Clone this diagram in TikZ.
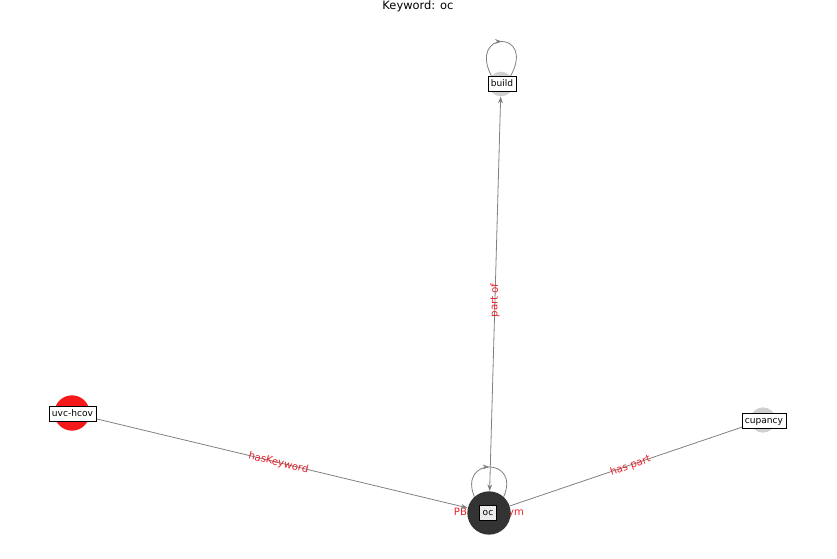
\documentclass[tikz,border=0pt]{standalone}
\usepackage{fontspec}
\setmainfont{DejaVu Sans}
\usetikzlibrary{arrows.meta,decorations.markings}
\definecolor{edgegray}{HTML}{808080}
\definecolor{lblred}{HTML}{E8202A}
\definecolor{ocdark}{HTML}{333333}
\definecolor{nodegray}{HTML}{D0D0D0}
\definecolor{hcovred}{HTML}{F51919}
\tikzset{
  dot/.style={circle,inner sep=0pt,draw=none},
  tag/.style={draw=black,fill=white,line width=0.5pt,inner sep=2.2pt,font=\fontsize{6.8}{8}\selectfont,text height=5.2pt,text depth=1.4pt},
  edge/.style={draw=edgegray,line width=0.6pt},
  tip/.style={-{Stealth[length=5pt,width=3.6pt]}},
  elabel/.style={text=lblred,font=\fontsize{7.6}{9}\selectfont,inner sep=0pt},
  midarrow/.style={postaction={decorate},decoration={markings,mark=at position 0.5 with {\arrow{Stealth[length=5pt,width=3.6pt]}}}}
}
\begin{document}
\begin{tikzpicture}[x=0.75pt,y=-0.75pt]
\useasboundingbox (0,0) rectangle (837,559);
\node[font=\fontsize{8.6}{10}\selectfont] (title) at (418,6) {Keyword: oc};
% label hidden behind the oc node
\node[elabel] (lsyn) at (489,513) {PBN synonym};
% node circles
\node[dot,fill=nodegray,minimum size=18.5pt] (build) at (501,84) {};
\node[dot,fill=ocdark,minimum size=32.5pt] (oc) at (489,513) {};
\node[dot,fill=hcovred,minimum size=26.5pt] (hcov) at (72,413) {};
\node[dot,fill=nodegray,minimum size=19pt] (cup) at (763,420) {};
% edges
\draw[edge,tip] (hcov) -- (oc) node[elabel,midway,sloped,yshift=-0.5pt] (lkw) {hasKeyword};
\draw[edge,tip] (oc) -- (cup) node[elabel,pos=0.5,sloped,yshift=-0.5pt] (lhp) {has part};
\draw[edge,{Stealth[length=5pt,width=3.6pt]}-{Stealth[length=5pt,width=3.6pt]}] (oc) -- (build) node[elabel,pos=0.49,sloped,xshift=-2pt] (lpo) {part of};
\draw[edge,midarrow] (build.140) .. controls (468,30) and (536,30) .. (build.40);
\draw[edge,midarrow] (oc.132) .. controls (458,457) and (521,457) .. (oc.48);
% label boxes
\node[tag] (tbuild) at (502,84) {build};
\node[tag,fill=white!92!black] (toc) at (488,513) {oc};
\node[tag] (thcov) at (72.5,413.5) {uvc-hcov};
\node[tag] (tcup) at (764,420.5) {cupancy};
\end{tikzpicture}
\end{document}
